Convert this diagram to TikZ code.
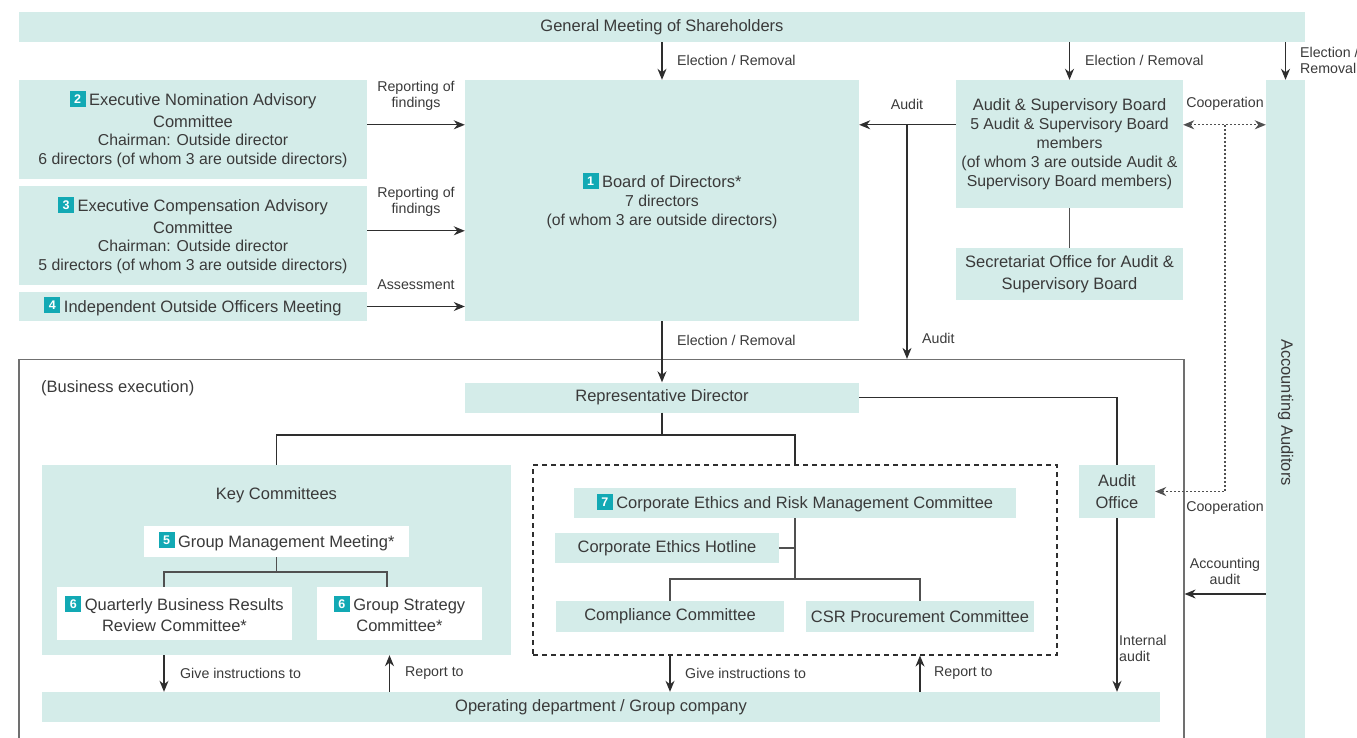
\documentclass[tikz,border=0pt]{standalone}
\usepackage{fontspec}
\setmainfont{Liberation Sans}
\usetikzlibrary{arrows.meta}

\definecolor{boxfill}{HTML}{D4ECE9}
\definecolor{badgeteal}{HTML}{12A9B4}
\definecolor{ink}{HTML}{3A3A3A}
\definecolor{wirecol}{HTML}{2E2E2E}
\definecolor{treecol}{HTML}{505050}
\definecolor{framecol}{HTML}{707070}

% numbered square in front of a committee name
\newcommand\numbadge[1]{\raisebox{-1.2pt}{\setlength{\fboxsep}{0pt}\colorbox{badgeteal}{\makebox[16pt][c]{\rule{0pt}{16pt}\raisebox{3.4pt}{\textcolor{white}{\fontsize{12.5}{12.5}\selectfont\bfseries #1}}}}}\hspace{3.5pt}}
\newcommand\subfont{\fontsize{15.8}{19}\selectfont}

\tikzset{
  box/.style={fill=boxfill, inner sep=0pt, align=center, text=ink,
              font=\fontsize{16.5}{19}\selectfont},
  wbox/.style={box, fill=white},
  lbl/.style={inner sep=0pt, align=center, text=ink,
              font=\fontsize{14.2}{16}\selectfont},
  tip/.tip={Stealth[length=11pt,width=9pt,inset=3.5pt]},
  arr/.style={draw=wirecol, line width=1.2pt, -tip},
  wiring/.style={draw=wirecol, line width=1.2pt},
  tree/.style={draw=treecol, line width=1.1pt},
  dotline/.style={draw=treecol, line width=1.1pt, dash pattern=on 2pt off 2pt},
}

\begin{document}
\begin{tikzpicture}[x=1pt, y=-1pt]
\useasboundingbox (0,0) rectangle (1357,738);

% ---------------- governance level ----------------
\node[box, minimum width=1286pt, minimum height=30pt] (gms) at (662,27)
  {General Meeting of Shareholders};

\node[box, minimum width=348pt, minimum height=99pt] (enac) at (193,129.5)
  {\numbadge{2}Executive Nomination Advisory\\[3pt]Committee\\[-1pt]{\subfont Chairman: Outside director}\\{\subfont 6 directors (of whom 3 are outside directors)}};
\node[box, minimum width=348pt, minimum height=99pt] (ecac) at (193,235.5)
  {\numbadge{3}Executive Compensation Advisory\\[3pt]Committee\\[-1pt]{\subfont Chairman: Outside director}\\{\subfont 5 directors (of whom 3 are outside directors)}};
\node[box, minimum width=348pt, minimum height=29pt] (ioom) at (193,306.5)
  {\numbadge{4}Independent Outside Officers Meeting};

\node[box, minimum width=394pt, minimum height=241pt] (bod) at (662,200.5)
  {\numbadge{1}Board of Directors*\\[-0.5pt]{\subfont 7 directors}\\{\subfont (of whom 3 are outside directors)}};

\node[box, minimum width=227pt, minimum height=128pt] (asb) at (1069.5,144)
  {Audit \& Supervisory Board\\{\subfont 5 Audit \& Supervisory Board}\\{\subfont members}\\{\subfont (of whom 3 are outside Audit \&}\\{\subfont Supervisory Board members)}};
\node[box, minimum width=227pt, minimum height=52pt] (sec) at (1069.5,274)
  {Secretariat Office for Audit \&\\[3pt]Supervisory Board};

% vertical bar: after rotate=-90 its west anchor is the top, its south anchor the left side
\node[box, rotate=-90, minimum width=665pt, minimum height=39pt] (acc) at (1285.5,412.5)
  {Accounting Auditors};

% ---------------- business execution ----------------
\node[draw=framecol, line width=1.2pt, inner sep=0pt,
      minimum width=1165pt, minimum height=401pt] (exec) at (601.5,560) {};
\node[anchor=west, inner sep=0pt, text=ink, font=\fontsize{16.5}{19}\selectfont]
  (execlbl) at (41,388) {(Business execution)};

\node[box, minimum width=394pt, minimum height=30pt] (rep) at (662,397.5)
  {Representative Director};

\node[box, minimum width=469pt, minimum height=190pt] (kc) at (276.5,560) {};
\node[inner sep=0pt, text=ink, font=\fontsize{16.5}{19}\selectfont] (kct) at (276.5,495)
  {Key Committees};
\node[wbox, minimum width=265pt, minimum height=31pt] (gmm) at (276.5,541.5)
  {\numbadge{5}Group Management Meeting*};
\node[wbox, minimum width=235pt, minimum height=53pt] (qbr) at (174.5,613.5)
  {\numbadge{6}Quarterly Business Results\\[2pt]Review Committee*};
\node[wbox, minimum width=165pt, minimum height=53pt] (gsc) at (399.5,613.5)
  {\numbadge{6}Group Strategy\\[2pt]Committee*};

\node[draw=wirecol, line width=1.1pt, dash pattern=on 5pt off 4pt, inner sep=0pt,
      minimum width=524pt, minimum height=190pt] (eth) at (795,560) {};
\node[box, minimum width=442pt, minimum height=30pt] (cermc) at (795,503)
  {\numbadge{7}Corporate Ethics and Risk Management Committee};
\node[box, minimum width=224pt, minimum height=30pt] (hot) at (667,548)
  {Corporate Ethics Hotline};
\node[box, minimum width=228pt, minimum height=31pt] (comp) at (670,616.5)
  {Compliance Committee};
\node[box, minimum width=228pt, minimum height=31pt] (csr) at (920,616.5)
  {CSR Procurement Committee};

\node[box, minimum width=76pt, minimum height=53pt] (ao) at (1117,491.5)
  {Audit\\[3pt]Office};

\node[box, minimum width=1118pt, minimum height=30pt] (op) at (601,707)
  {Operating department / Group company};

% ---------------- branch points ----------------
\coordinate (audtap) at (907,125);
\coordinate (cooptap) at (1225,125);
\coordinate (split) at (662,435);
\coordinate (gsplit) at (276.5,572);
\coordinate (esplit) at (795,579);

% ---------------- connectors ----------------
\draw[arr] (bod.north |- gms.south) -- (bod.north);
\draw[arr] (asb.north |- gms.south) -- (asb.north);
\draw[arr] (acc.west |- gms.south) -- (acc.west);

\draw[arr] ([yshift=-45pt]enac.north east) -- ([yshift=-45pt]enac.north east -| bod.west);
\draw[arr] ([yshift=-45pt]ecac.north east) -- ([yshift=-45pt]ecac.north east -| bod.west);
\draw[arr] (ioom.east) -- (ioom.east -| bod.west);

\draw[arr] ([yshift=-45pt]asb.north west) -- ([yshift=-45pt]asb.north west -| bod.east);
\draw[arr] (audtap) -- (audtap |- exec.north);
\draw[tree] (asb.south) -- (sec.north);

\draw[dotline, tip-tip]
  ([yshift=-45pt]asb.north east) -- ([yshift=-45pt]asb.north east -| acc.south);
\draw[dotline, -tip] (cooptap) |- (ao.east);

\draw[arr] ([yshift=-181.5pt]acc.south) -- ([yshift=-181.5pt]acc.south -| exec.east);

\draw[arr] (bod.south) -- (rep.north);
\draw[wiring] (rep.east) -| (ao.north);
\draw[wiring] (rep.south) -- (split);
\draw[wiring] (kc.north) |- (split) -| (eth.north);

\draw[tree] (gmm.south) -- (gsplit);
\draw[tree] ([xshift=-10.5pt]qbr.north) |- (gsplit) -| ([xshift=-12.5pt]gsc.north);

\draw[tree] (cermc.south) -- (esplit);
\draw[tree] (hot.east) -- (hot.east -| esplit);
\draw[tree] (comp.north) |- (esplit) -| (csr.north);

\draw[arr] ([xshift=-112.5pt]kc.south) -- ([xshift=-112.5pt]kc.south |- op.north);
\draw[arr] ([xshift=113pt]kc.south |- op.north) -- ([xshift=113pt]kc.south);
\draw[arr] ([xshift=-125pt]eth.south) -- ([xshift=-125pt]eth.south |- op.north);
\draw[arr] ([xshift=125pt]eth.south |- op.north) -- ([xshift=125pt]eth.south);
\draw[arr] (ao.south) -- (ao.south |- op.north);

% ---------------- connector labels ----------------
\node[lbl, anchor=west] (l1) at (677,60) {Election / Removal};
\node[lbl, anchor=west] (l2) at (1085,60) {Election / Removal};
\node[lbl, anchor=west, align=left] (l3) at (1300,60) {Election /\\Removal};
\node[lbl] (l4) at (416,96) {Reporting of\\findings};
\node[lbl] (l5) at (416,202) {Reporting of\\findings};
\node[lbl] (l6) at (416,285) {Assessment};
\node[lbl] (l7) at (907,104) {Audit};
\node[lbl] (l8) at (1225,104) {Cooperation};
\node[lbl, anchor=west] (l9) at (677,340) {Election / Removal};
\node[lbl, anchor=west] (l10) at (922,338) {Audit};
\node[lbl] (l11) at (1225,508) {Cooperation};
\node[lbl] (l12) at (1225,571) {Accounting\\audit};
\node[lbl, anchor=west, align=left] (l13) at (1119,648) {Internal\\audit};
\node[lbl, anchor=west] (l14) at (180,673) {Give instructions to};
\node[lbl, anchor=west] (l15) at (405,673) {Report to};
\node[lbl, anchor=west] (l16) at (685,673) {Give instructions to};
\node[lbl, anchor=west] (l17) at (934,673) {Report to};
\end{tikzpicture}
\end{document}
